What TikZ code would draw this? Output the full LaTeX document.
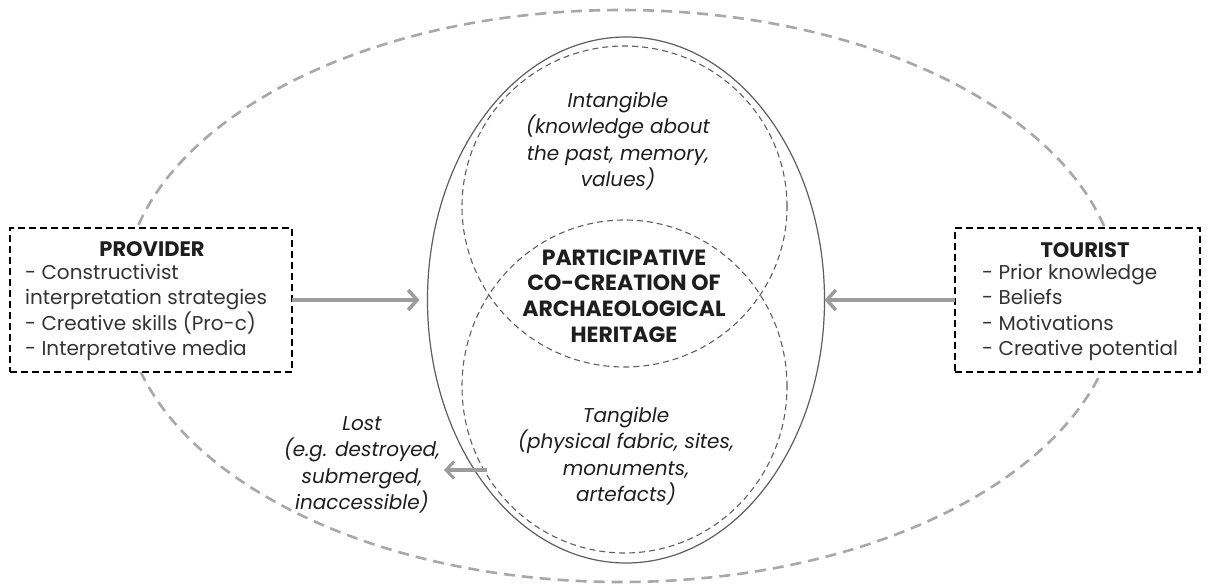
\documentclass[tikz,border=0pt]{standalone}
\usepackage{fontspec}
\setmainfont{Poppins}
\usetikzlibrary{shapes.geometric,arrows.meta}
\definecolor{outergray}{HTML}{A8A8A8}
\definecolor{ringgray}{HTML}{5E5E5E}
\definecolor{arrowgray}{HTML}{9C9C9C}
\definecolor{textdark}{HTML}{1E1E1E}
\definecolor{textgray}{HTML}{333333}
\begin{document}
\begin{tikzpicture}[x=1pt,y=-1pt,
  outerring/.style={ellipse, draw=outergray, line width=2.6pt, dash pattern=on 11pt off 7pt,
    minimum width=996pt, minimum height=572pt, inner sep=0pt, outer sep=0pt},
  heritage/.style={ellipse, draw=ringgray, line width=1.2pt,
    minimum width=397pt, minimum height=526pt, inner sep=0pt, outer sep=0pt},
  facet/.style={ellipse, draw=ringgray, line width=1.1pt, dash pattern=on 6pt off 4pt,
    inner sep=0pt, outer sep=0pt},
  actorbox/.style={draw=black, fill=white, line width=1.6pt, dash pattern=on 7pt off 4pt,
    minimum height=144pt, inner sep=0pt, outer sep=0pt},
  bigarrow/.style={draw=arrowgray, line width=4.5pt,
    -{Straight Barb[length=9pt,width=20pt,line width=3.5pt]}},
  smallarrow/.style={draw=arrowgray, line width=3.8pt,
    -{Straight Barb[length=8pt,width=17pt,line width=3pt]}},
  bodytext/.style={inner sep=0pt, text=textgray, font=\fontsize{20}{25.2}\selectfont},
  italictext/.style={inner sep=0pt, align=center, text=textdark, font=\fontsize{20}{26.5}\selectfont\itshape},
  titletext/.style={inner sep=0pt, text=textdark, font=\fontsize{21}{25.5}\selectfont\bfseries},
]
\useasboundingbox (0,0) rectangle (1211,586);

% rings
\node[outerring] (field) at (621,296) {};
\node[heritage] (heritage) at (626,300) {};
\node[facet, minimum width=325pt, minimum height=321pt] (intangible) at (624.5,206.5) {};
\node[facet, minimum width=325pt, minimum height=333pt] (tangible) at (624.5,386.5) {};

% ring texts
\node[italictext] (intangibletext) at (618,141) {Intangible\\(knowledge about\\the past, memory,\\values)};
\node[italictext] (tangibletext) at (626,456) {Tangible\\(physical fabric, sites,\\monuments,\\artefacts)};
\node[titletext, align=center, font=\fontsize{22}{25.6}\selectfont\bfseries] (core) at (624,296)
  {PARTICIPATIVE\\CO-CREATION OF\\ARCHAEOLOGICAL\\HERITAGE};

% actor boxes
\node[actorbox, minimum width=282pt] (provider) at (151,300) {};
\node[titletext] (providertitle) at (152,249) {PROVIDER};
\node[bodytext, anchor=west, align=left] (provideritems) at (25,312.5)
  {- Constructivist\\interpretation strategies\\- Creative skills (Pro-c)\\- Interpretative media};

\node[actorbox, minimum width=245pt] (tourist) at (1077.5,300) {};
\node[titletext] (touristtitle) at (1085,250) {TOURIST};
\node[bodytext, anchor=west, align=left] (touristitems) at (982,312.5)
  {- Prior knowledge\\- Beliefs\\- Motivations\\- Creative potential};

% lost heritage
\node[italictext] (lost) at (362,465) {Lost\\(e.g. destroyed,\\submerged,\\inaccessible)};
\coordinate (lostfrom) at (487,470);
\coordinate (lostto) at (444,470);

% connectors
\draw[bigarrow] (provider.east) -- ([xshift=-8pt]heritage.west);
\draw[bigarrow] (tourist.west) -- (heritage.east);
\draw[smallarrow] (lostfrom) -- (lostto);
\end{tikzpicture}
\end{document}
